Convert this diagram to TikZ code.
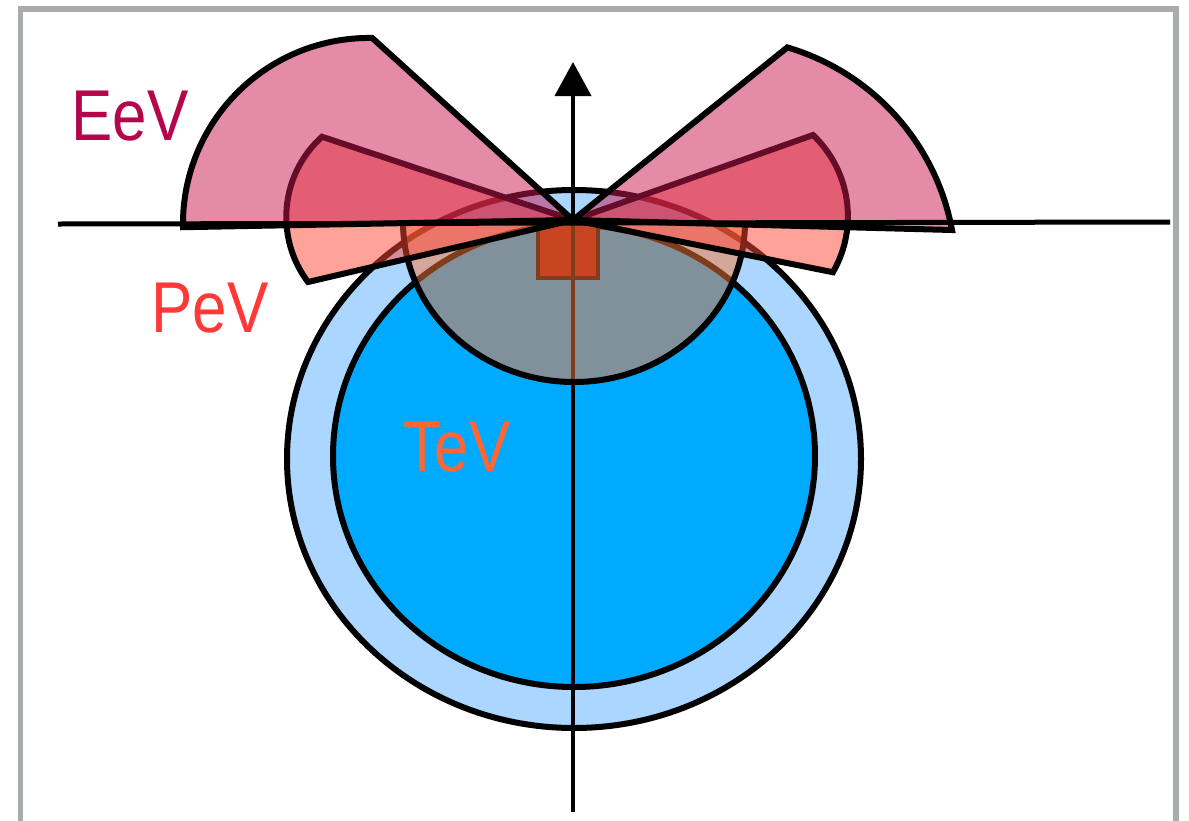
\documentclass[tikz,border=0pt]{standalone}
\usepackage{fontspec}
\setmainfont{Liberation Sans}
\usepackage{graphicx}
\usetikzlibrary{arrows.meta}
\definecolor{ltblue}{RGB}{170,214,255}
\definecolor{dblue}{RGB}{0,170,255}
\definecolor{tevov}{RGB}{255,122,57}
\definecolor{rectred}{RGB}{147,16,9}
\definecolor{pevc}{RGB}{255,71,55}
\definecolor{eevc}{RGB}{200,25,80}
\definecolor{eevtext}{RGB}{181,5,75}
\definecolor{pevtext}{RGB}{255,56,56}
\definecolor{tevtext}{RGB}{255,102,51}
\definecolor{framegray}{RGB}{168,172,171}
\begin{document}
\begin{tikzpicture}[x=1pt,y=-1pt, line join=miter,
  outl/.style={draw=black, line width=6pt},
  pevw/.style={draw=black, line width=6pt, fill=pevc, fill opacity=0.5},
  eevw/.style={draw=black, line width=6pt, fill=eevc, fill opacity=0.5},
  lab/.style={inner sep=0pt, font=\fontsize{72}{72}\selectfont}]
\useasboundingbox (0,0) rectangle (1189,820);
\fill[white] (0,0) rectangle (1189,820);
\draw[framegray, line width=5.5pt] (20.5,825) -- (20.5,9) -- (1176,9) -- (1176,825);
\coordinate (O) at (573,220);
% circles
\draw[outl, fill=ltblue] (574,459) ellipse[x radius=287, y radius=269];
\draw[outl, fill=dblue] (574,456) ellipse[x radius=241, y radius=231];
% detector rectangle
\draw[line width=3.5pt, fill=rectred] (538,222) rectangle (598,278);
% vertical axis
\coordinate (axb) at (573,812);
\coordinate (axt) at (573,62);
\draw[line width=4pt, -{Triangle[width=36pt,length=34pt]}] (axb) -- (axt);
% TeV overlay half ellipse
\fill[tevov, fill opacity=0.5] (403,222) arc[start angle=180,end angle=0,x radius=171,y radius=160] -- cycle;
\draw[line width=6pt] (403,222) arc[start angle=180,end angle=0,x radius=171,y radius=160];
% PeV wedges
\draw[pevw] (O) -- (308,282) arc[start angle=143,end angle=228,radius=108] -- cycle;
\draw[pevw] (O) -- (813,135) arc[start angle=-46.5,end angle=30,radius=112] -- cycle;
% EeV wedges
\draw[eevw] (O) -- (183,227.2) arc[start angle=179,end angle=271,radius=186] -- cycle;
\draw[eevw] (O) -- (952,230) arc[start angle=-10.5,end angle=-73.6,radius=235] -- cycle;
% horizontal axis
\coordinate (hl) at (58,224);
\coordinate (hr) at (1170,222);
\draw[line width=5pt] (hl) -- (hr);
% labels
\node[lab, text=eevtext] (eev) at (130,116) {\scalebox{0.86}[1]{EeV}};
\node[lab, text=pevtext] (pev) at (210,308) {\scalebox{0.86}[1]{PeV}};
\node[lab, text=tevtext] (tev) at (457,447) {\scalebox{0.86}[1]{TeV}};
\end{tikzpicture}
\end{document}
